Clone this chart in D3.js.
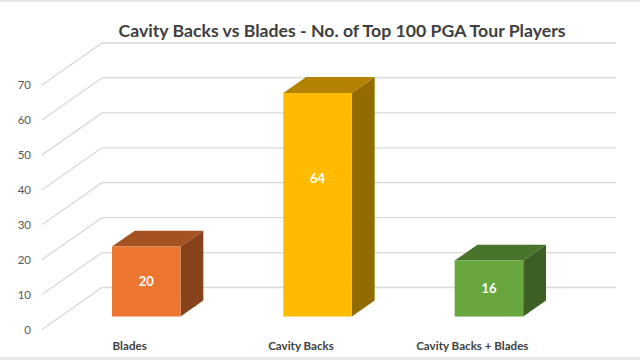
<!DOCTYPE html>
<html>
<head>
<meta charset="utf-8">
<script src="https://cdn.jsdelivr.net/npm/d3@7"></script>
<style>
  body { margin: 0; background: #fff; }
  text { font-family: Lato, "Open Sans", sans-serif; }
</style>
</head>
<body>
<svg id="chart" width="640" height="360"></svg>
<script>
// Data
var categories = ["Blades", "Cavity Backs", "Cavity Backs + Blades"];
var players = [20, 64, 16];
var yTicks = [0, 10, 20, 30, 40, 50, 60, 70];
var barColors = ["#EC7530", "#FFBB00", "#68A63E"];
var title = "Cavity Backs vs Blades - No. of Top 100 PGA Tour Players";

var svg = d3.select('#chart');

// scales (front plane of the 3D box)
var x = d3.scaleBand().domain(categories).range([42, 556]);
var y = d3.scaleLinear().domain([0, 70]).range([329.5, 85]);
// depth vector of the box: z in [0,1]
var depth = {dx: 60, dy: -42};
var proj = function(px, v, z) { return [px + depth.dx * z, y(v) + depth.dy * z]; };
var barZ0 = 0.31, barZ1 = 0.69;
var barW = x.bandwidth() * 0.4;

// border lines top / bottom
svg.append('rect').attr('x', 0).attr('y', 0).attr('width', 640).attr('height', 2).attr('fill', '#e3e3e3');
svg.append('rect').attr('x', 0).attr('y', 357).attr('width', 640).attr('height', 3).attr('fill', '#e8e8e8');

// title
svg.append('text')
  .attr('x', 342).attr('y', 37)
  .attr('text-anchor', 'middle')
  .attr('font-size', 17).attr('font-weight', 'bold')
  .attr('fill', '#404040')
  .attr('textLength', 447).attr('lengthAdjust', 'spacingAndGlyphs')
  .text(title);

// gridlines: side wall diagonal + back wall horizontal
var grid = svg.append('g').attr('stroke', '#d9d9d9').attr('stroke-width', 1.3).attr('fill', 'none');
grid.selectAll('path').data(yTicks).enter().append('path')
  .attr('d', function(v) {
    var a = proj(x.range()[0], v, 0), b = proj(x.range()[0], v, 1), c = proj(x.range()[1], v, 1);
    return d3.line()([a, b, c]);
  });

// tick labels
svg.append('g').selectAll('text').data(yTicks).enter().append('text')
  .attr('x', 31).attr('y', function(v) { return y(v) + 4; })
  .attr('text-anchor', 'end')
  .attr('font-size', 11.5).attr('fill', '#595959')
  .text(function(v) { return v; });

// bars
var bars = svg.append('g').selectAll('g').data(players).enter().append('g');
var barX = function(d, i) { return x(categories[i]) + (x.bandwidth() - barW) / 2; };
var line = d3.line();

bars.append('path') // side
  .attr('fill', function(d, i) { return d3.color(barColors[i]).darker(1.55); })
  .attr('d', function(d, i) {
    var xr = barX(d, i) + barW;
    return line([proj(xr, 0, barZ0), proj(xr, 0, barZ1), proj(xr, d, barZ1), proj(xr, d, barZ0)]) + 'Z';
  });
bars.append('path') // top
  .attr('fill', function(d, i) { return d3.color(barColors[i]).darker(1.0); })
  .attr('d', function(d, i) {
    var xl = barX(d, i), xr = xl + barW;
    return line([proj(xl, d, barZ0), proj(xl, d, barZ1), proj(xr, d, barZ1), proj(xr, d, barZ0)]) + 'Z';
  });
bars.append('path') // front
  .attr('fill', function(d, i) { return barColors[i]; })
  .attr('d', function(d, i) {
    var xl = barX(d, i), xr = xl + barW;
    return line([proj(xl, 0, barZ0), proj(xl, d, barZ0), proj(xr, d, barZ0), proj(xr, 0, barZ0)]) + 'Z';
  });

// value labels on front face (Excel keeps tall-bar labels nearer the top)
bars.append('text')
  .attr('x', function(d, i) { return proj(barX(d, i) + barW / 2, 0, barZ0)[0]; })
  .attr('y', function(d) {
    var top = proj(0, d, barZ0)[1], bottom = proj(0, 0, barZ0)[1];
    return Math.min((top + bottom) / 2, top + 86) + 4.5;
  })
  .attr('text-anchor', 'middle')
  .attr('font-size', 13).attr('font-weight', 'bold').attr('fill', '#fff')
  .text(function(d) { return d; });

// category labels
svg.append('g').selectAll('text').data(categories).enter().append('text')
  .attr('x', function(c) { return x(c) + x.bandwidth() / 2 + 2; })
  .attr('y', 349.5)
  .attr('text-anchor', 'middle')
  .attr('font-size', 11.6).attr('font-weight', 'bold').attr('fill', '#404040')
  .text(function(c) { return c; });
</script>
</body>
</html>
